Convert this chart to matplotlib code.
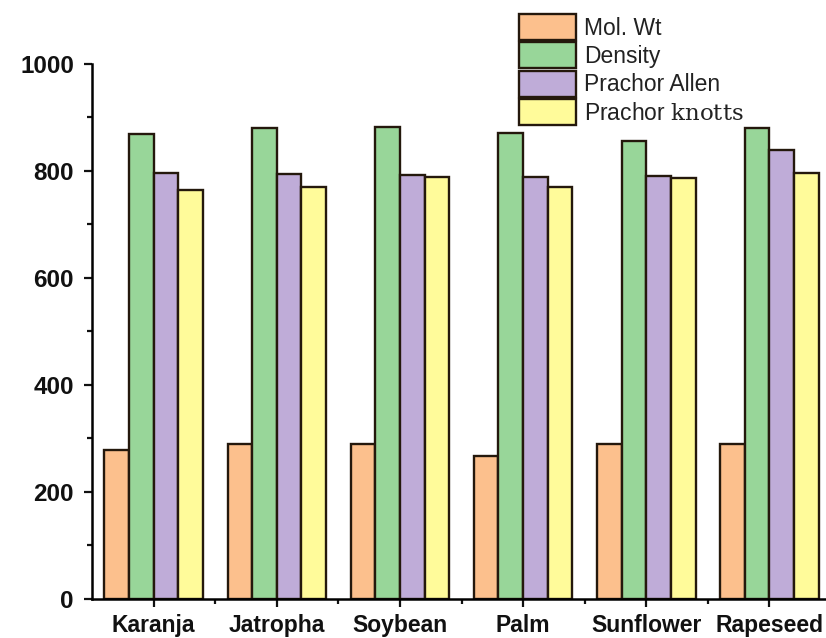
import matplotlib
matplotlib.use("Agg")
import matplotlib.pyplot as plt
from matplotlib.ticker import MultipleLocator, FixedLocator
import numpy as np

plt.rcParams['font.family'] = ['Liberation Sans', 'DejaVu Sans']
plt.rcParams['mathtext.fontset'] = 'custom'
plt.rcParams['mathtext.rm'] = 'DejaVu Serif'

categories = ['Karanja', 'Jatropha', 'Soybean', 'Palm', 'Sunflower', 'Rapeseed']
mol_wt = [278, 289, 289, 267, 289, 289]
density = [869, 880, 883, 871, 855, 880]
prachor_allen = [796, 794, 793, 788, 791, 839]
prachor_knotts = [765, 770, 789, 769, 787, 796]

series = [
    ('Mol. Wt', mol_wt, '#fcc08d'),
    ('Density', density, '#98d699'),
    ('Prachor Allen', prachor_allen, '#bfacd8'),
    ('Prachor $\\mathrm{knotts}$', prachor_knotts, '#fffb9a'),
]

fig = plt.figure(figsize=(8.26, 6.38), dpi=100)
ax = fig.add_axes([0.1114, 0.0619, 0.8947, 0.8378])

x = np.arange(len(categories))
width = 0.2
offsets = [-0.3, -0.1, 0.1, 0.3]
edge = '#24180c'
handles = []
for (label, vals, color), off in zip(series, offsets):
    b = ax.bar(x + off, vals, width, color=color, edgecolor=edge,
               linewidth=1.7, label=label, zorder=2)
    handles.append(b)

ax.set_xlim(-0.5, 5.5)
ax.set_ylim(0, 1000)
ax.spines['top'].set_visible(False)
ax.spines['right'].set_visible(False)
ax.spines['left'].set_linewidth(1.8)
ax.spines['bottom'].set_linewidth(1.8)

ax.set_xticks(x)
ax.set_xticklabels(categories, fontweight='bold', fontsize=16.5)
ax.xaxis.set_minor_locator(FixedLocator(np.arange(0.5, 5.5, 1.0)))
ax.yaxis.set_major_locator(MultipleLocator(200))
ax.yaxis.set_minor_locator(MultipleLocator(100))
for lab in ax.get_yticklabels():
    lab.set_fontweight('bold')
    lab.set_fontsize(17.5)
ax.tick_params(which='major', direction='out', length=6, width=1.6, color='#111111')
ax.tick_params(which='minor', direction='out', length=3.5, width=1.6, color='#111111')
ax.tick_params(axis='x', which='major', pad=5, colors='#111111')
ax.tick_params(axis='y', which='major', pad=7, colors='#111111')

leg = fig.legend(handles=handles, loc='upper left',
                 bbox_to_anchor=(519 / 826, 1 - 14 / 638),
                 frameon=False, fontsize=16.5, handlelength=2.5,
                 handleheight=1.35, labelspacing=0.12, handletextpad=0.35,
                 borderpad=0, borderaxespad=0)
for t in leg.get_texts():
    t.set_color('#222222')

fig.savefig('out.png', dpi=100)
